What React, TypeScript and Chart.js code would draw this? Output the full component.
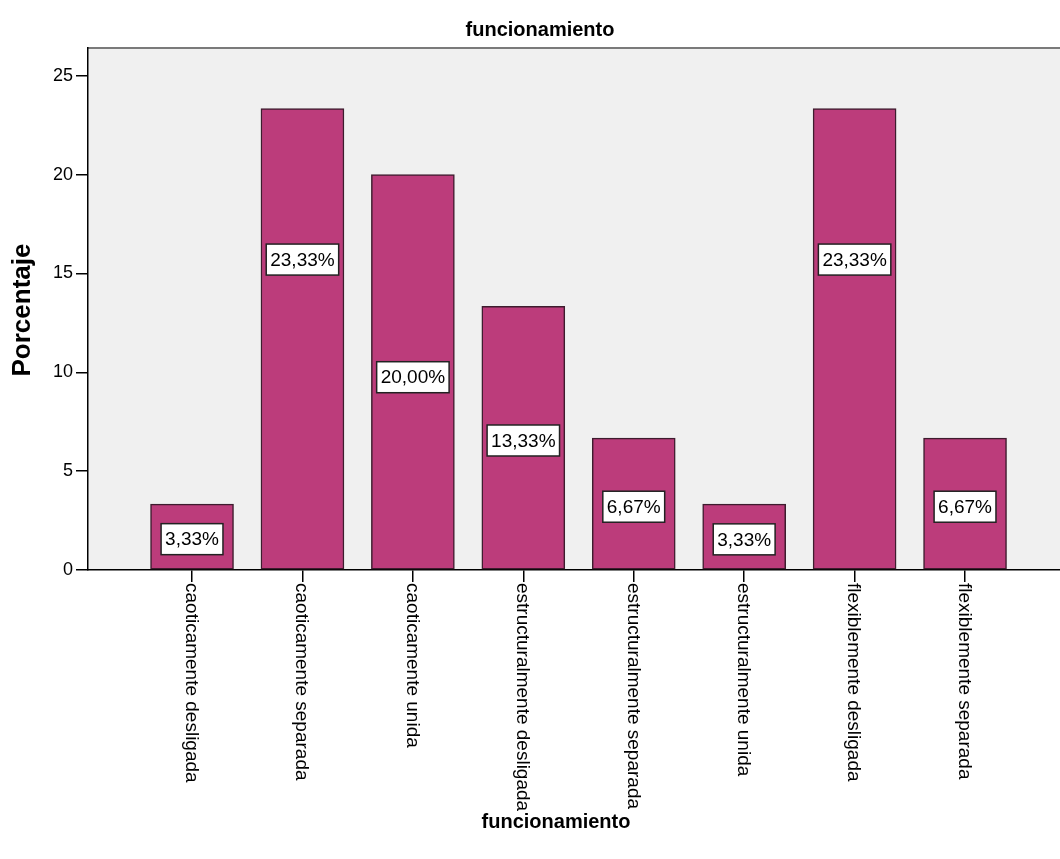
import React, { useEffect, useRef } from "react";
import { Chart, registerables } from "chart.js";

Chart.register(...registerables);

const categories = [
  "caoticamente desligada",
  "caoticamente separada",
  "caoticamente unida",
  "estructuralmente desligada",
  "estructuralmente separada",
  "estructuralmente unida",
  "flexiblemente desligada",
  "flexiblemente separada",
];
const percentages = [3.33, 23.33, 20.0, 13.33, 6.67, 3.33, 23.33, 6.67];
const yTicks = [0, 5, 10, 15, 20, 25];
const chartTitle = "funcionamiento";
const xTitle = "funcionamiento";
const yTitle = "Porcentaje";

// label anchor heights (axis units) as placed in the reference
const LABEL_AT = [1.56, 15.7, 9.75, 6.55, 3.2, 1.55, 15.7, 3.2];

const W = 1060;
const H = 859;

export default function App() {
  const ref = useRef<HTMLCanvasElement | null>(null);

  useEffect(() => {
    if (!ref.current) return;
    const font = "'Liberation Sans', Arial, sans-serif";

    const decor = {
      id: "decor",
      beforeDraw(chart: any) {
        const { ctx, chartArea } = chart;
        ctx.save();
        ctx.fillStyle = "#f0f0f0";
        ctx.fillRect(chartArea.left, chartArea.top, chartArea.right - chartArea.left, chartArea.bottom - chartArea.top);
        ctx.strokeStyle = "#7a7a7a";
        ctx.lineWidth = 2;
        ctx.beginPath();
        ctx.moveTo(chartArea.left, chartArea.top);
        ctx.lineTo(chartArea.right, chartArea.top);
        ctx.stroke();
        ctx.restore();
      },
      afterDatasetsDraw(chart: any) {
        const { ctx } = chart;
        const xs = chart.scales.x;
        const ys = chart.scales.y;
        ctx.save();
        ctx.font = `19px ${font}`;
        ctx.textAlign = "center";
        ctx.textBaseline = "middle";
        percentages.forEach((v, i) => {
          const txt = v.toFixed(2).replace(".", ",") + "%";
          const x = xs.getPixelForValue(i);
          const y = ys.getPixelForValue(LABEL_AT[i]);
          const w = ctx.measureText(txt).width + 8;
          const h = 31;
          ctx.fillStyle = "#ffffff";
          ctx.fillRect(x - w / 2, y - h / 2, w, h);
          ctx.strokeStyle = "#222";
          ctx.lineWidth = 1.5;
          ctx.strokeRect(x - w / 2, y - h / 2, w, h);
          ctx.fillStyle = "#000";
          ctx.fillText(txt, x, y + 1);
        });
        ctx.restore();
      },
      afterDraw(chart: any) {
        const { ctx, chartArea } = chart;
        const xs = chart.scales.x;
        ctx.save();
        ctx.fillStyle = "#000";
        ctx.font = `19px ${font}`;
        ctx.textAlign = "left";
        ctx.textBaseline = "middle";
        categories.forEach((c, i) => {
          const x = xs.getPixelForValue(i);
          ctx.save();
          ctx.translate(x - 1, chartArea.bottom + 13);
          ctx.rotate(Math.PI / 2);
          ctx.fillText(c, 0, 0);
          ctx.restore();
        });
        ctx.font = `bold 20px ${font}`;
        ctx.textAlign = "center";
        ctx.textBaseline = "middle";
        ctx.fillText(chartTitle, 540, 30);
        ctx.fillText(xTitle, 556, 822);
        ctx.save();
        ctx.translate(23, 310);
        ctx.rotate(-Math.PI / 2);
        ctx.font = `bold 26px ${font}`;
        ctx.fillText(yTitle, 0, 0);
        ctx.restore();
        ctx.restore();
      },
    };

    const chart = new Chart(ref.current, {
      type: "bar",
      data: {
        datasets: [
          {
            data: percentages.map((v, i) => ({ x: i, y: v })),
            backgroundColor: "#bc3c7b",
            borderColor: "#3e1c2e",
            borderWidth: 1.5,
            borderSkipped: false,
            barThickness: 83,
          },
        ],
      },
      options: {
        responsive: false,
        animation: false,
        layout: { padding: { top: 48, left: 0, right: 0, bottom: 0 } },
        plugins: {
          legend: { display: false },
          tooltip: { enabled: false },
          title: { display: false },
        },
        scales: {
          x: {
            type: "linear",
            offset: false,
            min: -0.942,
            max: 7.86,
            afterBuildTicks: (scale: any) => {
              scale.ticks = categories.map((_, i) => ({ value: i }));
            },
            afterFit: (scale: any) => {
              scale.height = H - 570;
            },
            ticks: { display: false },
            grid: { offset: false, drawOnChartArea: false, drawTicks: true, tickLength: 12, color: "#000", lineWidth: 1.5 },
            border: { display: true, color: "#000", width: 1.5 },
          },
          y: {
            min: 0,
            max: 26.4,
            afterBuildTicks: (scale: any) => {
              scale.ticks = yTicks.map((v) => ({ value: v }));
            },
            afterFit: (scale: any) => {
              scale.width = 88;
            },
            ticks: { color: "#000", font: { size: 18, family: font }, padding: 3 },
            grid: { drawOnChartArea: false, drawTicks: true, tickLength: 12, color: "#000", lineWidth: 1.5 },
            border: { display: true, color: "#000", width: 1.5 },
          },
        },
      },
      plugins: [decor],
    } as any);

    return () => chart.destroy();
  }, []);

  return (
    <div style={{ position: "absolute", left: 0, top: 0, width: W, height: H, background: "#fff" }}>
      <canvas ref={ref} width={W} height={H} style={{ width: W, height: H, display: "block" }} />
    </div>
  );
}
